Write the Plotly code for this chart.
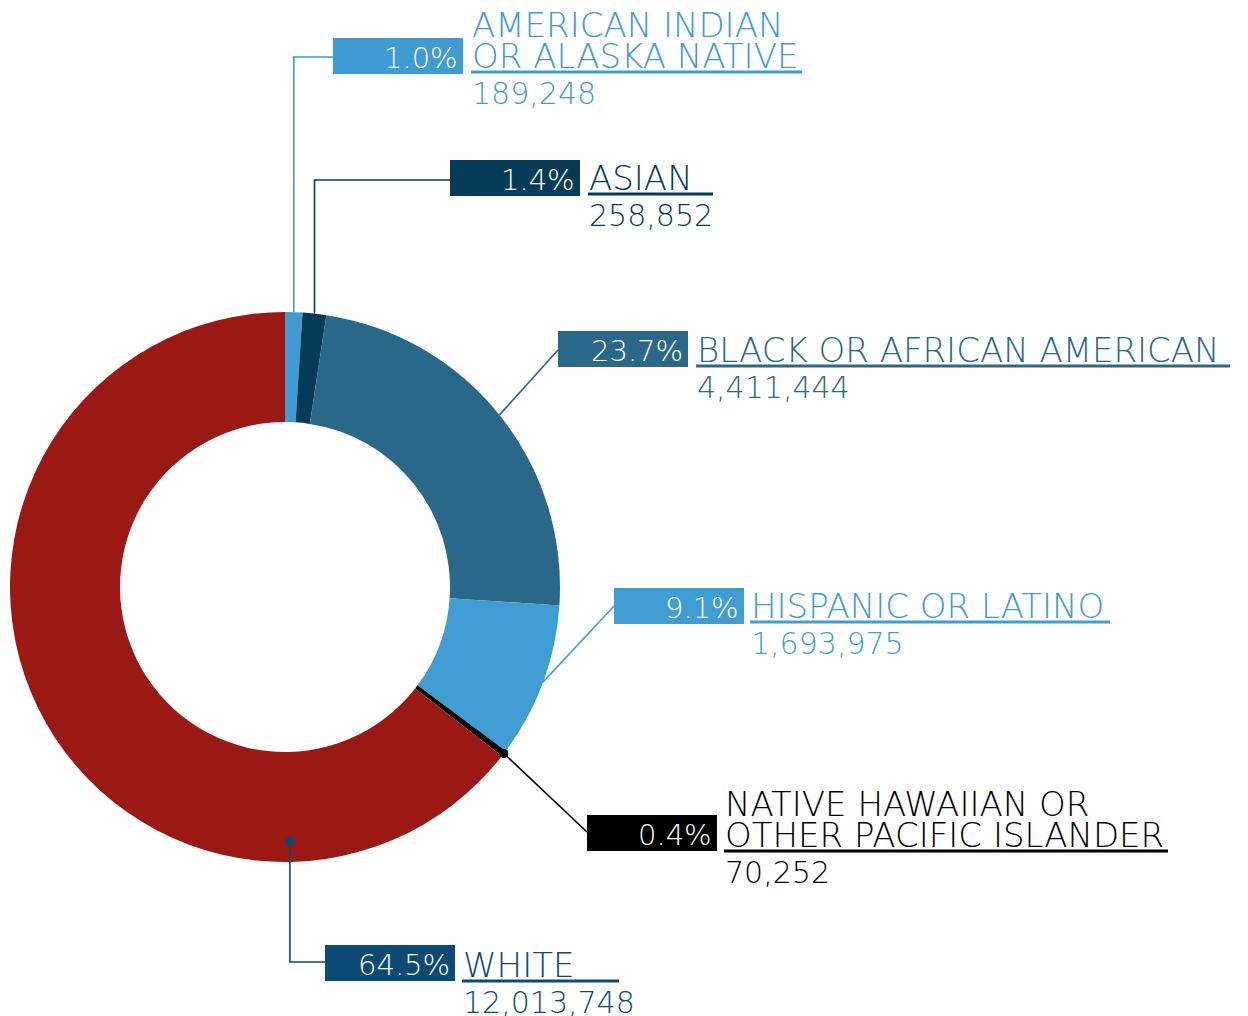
import math
import plotly.graph_objects as go

# ---------------- data ----------------
names = [
    ["AMERICAN INDIAN", "OR ALASKA NATIVE"],
    ["ASIAN"],
    ["BLACK OR AFRICAN AMERICAN"],
    ["HISPANIC OR LATINO"],
    ["NATIVE HAWAIIAN OR", "OTHER PACIFIC ISLANDER"],
    ["WHITE"],
]
counts = [189248, 258852, 4411444, 1693975, 70252, 12013748]
pct_labels = ["1.0%", "1.4%", "23.7%", "9.1%", "0.4%", "64.5%"]
value_labels = ["189,248", "258,852", "4,411,444", "1,693,975", "70,252", "12,013,748"]

# ---------------- style ----------------
W, H = 1248, 1016
OFF = 8  # page body margin
slice_colors = ["#3f9bd2", "#053b57", "#2a6889", "#3f9dd3", "#000000", "#9a1915"]
label_colors = ["#3f9bd2", "#053b57", "#2a6889", "#3f9dd3", "#000000", "#0b4a74"]
FONT = "DejaVu Sans"
NAME_SIZE = 34
NUM_SIZE = 30
PCT_SIZE = 29

cx, cy, R = 285, 587, 275
layout_spec = [
    dict(box=(333, 38), tx=471, base=37, ul=802, path="up", elbow=57, dot=False),
    dict(box=(450, 160), tx=588, base=190, ul=713, path="up", elbow=180, dot=False),
    dict(box=(558, 331), tx=696, base=362, ul=1230, path="diag", end=(558, 350), dot=False),
    dict(box=(614, 588), tx=750, base=618, ul=1110, path="diag", end=(614, 606), dot=False),
    dict(box=(587, 815), tx=724, base=816, ul=1168, path="diag", end=(587, 832), dot=True),
    dict(box=(325, 945), tx=462, base=977, ul=619, path="down", elbow=962, dot=True,
         angle=178.9, r=254),
]
BOX_W, BOX_H = 130, 36
LINE_GAP = 31

fig = go.Figure()

fig.add_trace(go.Pie(
    values=counts,
    labels=[" ".join(n) for n in names],
    sort=False,
    direction="clockwise",
    rotation=0,
    hole=0.6,
    marker=dict(colors=slice_colors, line=dict(width=0)),
    textinfo="none",
    hoverinfo="none",
    showlegend=False,
    domain=dict(x=[(cx - R - OFF) / W, (cx + R - OFF) / W],
                y=[1 - (cy + R - OFF) / H, 1 - (cy - R - OFF) / H]),
))

total = sum(counts)
cum = 0
shapes = []
annotations = []


def text_ann(x, baseline, text, size, color, xanchor="left"):
    annotations.append(dict(
        x=x, y=baseline - 0.36 * size, xref="x", yref="y", text=text,
        showarrow=False, xanchor=xanchor, yanchor="middle",
        font=dict(family=FONT, size=size, color=color, weight=300),
        borderpad=0,
    ))


for i, c in enumerate(counts):
    spec = layout_spec[i]
    mid = (cum + c / 2) / total * 360
    cum += c
    ang = math.radians(spec.get("angle", mid))
    r = spec.get("r", R)
    ax = cx + r * math.sin(ang)
    ay = cy - r * math.cos(ang)
    col = label_colors[i]
    bx, by = spec["box"]
    if spec["path"] in ("up", "down"):
        pts = [(ax, ay), (ax, spec["elbow"]), (bx, spec["elbow"])]
    else:
        pts = [(ax, ay), spec["end"]]
    path = "M " + " L ".join(f"{p[0]:.1f},{p[1]:.1f}" for p in pts)
    shapes.append(dict(type="path", xref="x", yref="y", path=path,
                       line=dict(color=col, width=1.6), layer="above"))
    if spec["dot"]:
        shapes.append(dict(type="circle", xref="x", yref="y", x0=ax - 4.5, x1=ax + 4.5,
                           y0=ay - 4.5, y1=ay + 4.5, fillcolor=col, line=dict(width=0),
                           layer="above"))
    # percent box
    shapes.append(dict(type="rect", xref="x", yref="y", x0=bx, x1=bx + BOX_W,
                       y0=by, y1=by + BOX_H, fillcolor=col, line=dict(width=0), layer="above"))
    text_ann(bx + BOX_W - 4, by + BOX_H - 6, pct_labels[i], PCT_SIZE, "white", xanchor="right")
    # names
    base = spec["base"]
    for j, line in enumerate(names[i]):
        text_ann(spec["tx"], base + j * LINE_GAP, line, NAME_SIZE, col)
    last = base + (len(names[i]) - 1) * LINE_GAP
    shapes.append(dict(type="line", xref="x", yref="y", x0=spec["tx"], x1=spec["ul"],
                       y0=last + 4, y1=last + 4, line=dict(color=col, width=3), layer="above"))
    text_ann(spec["tx"], last + 36, value_labels[i], NUM_SIZE, col)

fig.update_layout(
    width=W, height=H,
    margin=dict(l=0, r=0, t=0, b=0),
    paper_bgcolor="white", plot_bgcolor="rgba(0,0,0,0)",
    xaxis=dict(range=[OFF, W + OFF], visible=False, fixedrange=True, domain=[0, 1]),
    yaxis=dict(range=[H + OFF, OFF], visible=False, fixedrange=True, domain=[0, 1]),
    shapes=shapes,
    annotations=annotations,
)

fig.write_html("out.html")
